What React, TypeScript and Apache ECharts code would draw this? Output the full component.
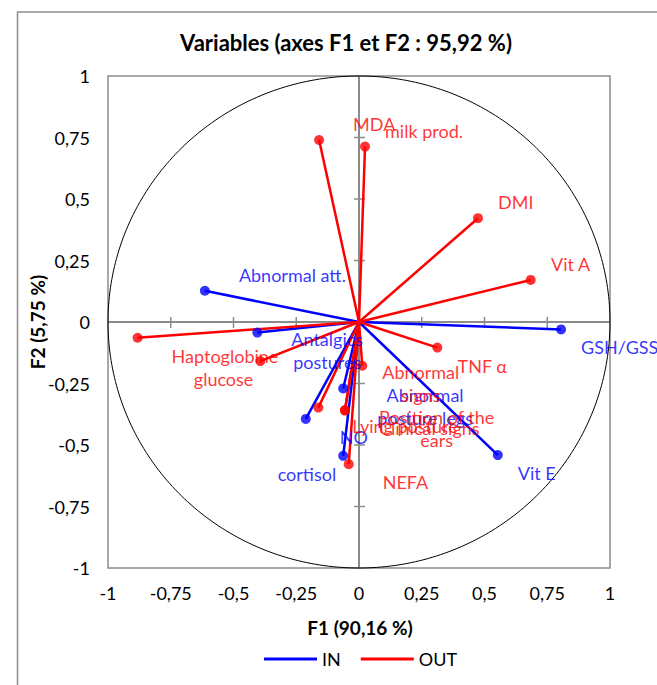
import React, { useEffect, useRef } from 'react';
import * as echarts from 'echarts';

// ---- Data ----
const TITLE = 'Variables (axes F1 et F2 : 95,92 %)';
const X_TITLE = 'F1 (90,16 %)';
const Y_TITLE = 'F2 (5,75 %)';
const TICKS = [-1, -0.75, -0.5, -0.25, 0, 0.25, 0.5, 0.75, 1];

const IN_NAMES = ['Abnormal att.', 'Antalgics\npostures', 'GSH/GSSG', 'Vit E', 'Abnormal\nposture legs', 'NO', 'cortisol'];
const IN_F1 = [-0.614, -0.405, 0.805, 0.553, -0.063, -0.212, -0.063];
const IN_F2 = [0.127, -0.043, -0.030, -0.541, -0.270, -0.394, -0.544];

const OUT_NAMES = ['Haptoglobine', 'glucose', 'MDA', 'milk prod.', 'DMI', 'Vit A', 'TNF α', 'Abnormal\nsigns', 'Lying posture', 'Clinical signs', 'Position of the\nears', 'NEFA'];
const OUT_F1 = [-0.882, -0.393, -0.159, 0.024, 0.474, 0.684, 0.312, 0.013, -0.162, -0.056, -0.056, -0.041];
const OUT_F2 = [-0.064, -0.159, 0.740, 0.713, 0.422, 0.171, -0.104, -0.178, -0.348, -0.358, -0.360, -0.578];

// labels placed on the left side of their point
const LEFT_LABELS = ['glucose', 'cortisol'];

const FONT = 'Lato';
const BLUE = '#0000ff';
const RED = '#ff0000';

function makeItems(names: string[], xs: number[], ys: number[]) {
  return names.map((name, i) => {
    const x = xs[i];
    const y = ys[i];
    const left = LEFT_LABELS.includes(name);
    return {
      name,
      value: [x, y],
      label: {
        align: left ? 'right' : 'left',
        offset: [left ? -7 : x < 0 ? 34 : 20, y >= 0 ? -16 : 18],
      },
    };
  });
}

function vectorSeries(name: string, xs: number[], ys: number[], color: string, z: number) {
  return {
    type: 'custom',
    name,
    z,
    silent: true,
    itemStyle: { color },
    data: xs.map((x, i) => [x, ys[i]]),
    renderItem: (_p: any, api: any) => {
      const o = api.coord([0, 0]);
      const p = api.coord([api.value(0), api.value(1)]);
      return {
        type: 'line',
        shape: { x1: o[0], y1: o[1], x2: p[0], y2: p[1] },
        style: { stroke: color, lineWidth: 2.5 },
      };
    },
  };
}

function pointSeries(name: string, names: string[], xs: number[], ys: number[], color: string, z: number) {
  return {
    type: 'scatter',
    name,
    z,
    symbol: 'circle',
    symbolSize: 10,
    itemStyle: { color },
    label: {
      show: true,
      position: 'inside',
      verticalAlign: 'middle',
      color,
      fontFamily: FONT,
      fontSize: 18,
      lineHeight: 23,
      formatter: (p: any) => String(p.name).split('\n').map((s) => `{ctr|${s}}`).join('\n'),
      rich: { ctr: { align: 'center', color, fontFamily: FONT, fontSize: 18, lineHeight: 23 } },
    },
    emphasis: { disabled: true },
    data: makeItems(names, xs, ys),
  };
}

const fmt = (v: number) => String(v).replace('.', ',');

export default function App() {
  const ref = useRef<HTMLDivElement>(null);

  useEffect(() => {
    if (!ref.current) return;
    const chart = echarts.init(ref.current, undefined, { renderer: 'svg' });

    const option: any = {
      animation: false,
      backgroundColor: '#ffffff',
      grid: {
        left: 108,
        top: 76,
        right: 47,
        bottom: 117,
        show: true,
        borderColor: '#8c8c8c',
        borderWidth: 1.5,
        backgroundColor: 'transparent',
      },
      xAxis: {
        type: 'value',
        min: -1,
        max: 1,
        interval: 0.25,
        axisLine: { show: false },
        axisTick: { show: false },
        splitLine: { show: false },
        axisLabel: { formatter: fmt, color: '#000', fontFamily: FONT, fontSize: 18, margin: 16 },
      },
      yAxis: {
        type: 'value',
        min: -1,
        max: 1,
        interval: 0.25,
        axisLine: { show: false },
        axisTick: { show: false },
        splitLine: { show: false },
        axisLabel: { formatter: fmt, color: '#000', fontFamily: FONT, fontSize: 18, margin: 18 },
      },
      legend: {
        left: 259,
        top: 645,
        itemWidth: 53,
        itemHeight: 3,
        itemGap: 20,
        selectedMode: false,
        textStyle: { color: '#000', fontFamily: FONT, fontSize: 18 },
        data: [
          { name: 'IN', icon: 'rect', itemStyle: { color: BLUE } },
          { name: 'OUT', icon: 'rect', itemStyle: { color: RED } },
        ],
      },
      graphic: [
        {
          type: 'rect',
          silent: true,
          shape: { x: 17.5, y: 12, width: 800, height: 800 },
          style: { fill: 'none', stroke: '#8c8c8c', lineWidth: 1.5 },
        },
        {
          type: 'text',
          x: 346,
          y: 42,
          style: { text: TITLE, fontFamily: FONT, fontWeight: 'bold', fontSize: 22, fill: '#000', align: 'center', verticalAlign: 'middle' },
        },
        {
          type: 'text',
          x: 360,
          y: 627,
          style: { text: X_TITLE, fontFamily: FONT, fontWeight: 'bold', fontSize: 19, fill: '#000', align: 'center', verticalAlign: 'middle' },
        },
        {
          type: 'text',
          x: 37,
          y: 322,
          rotation: Math.PI / 2,
          style: { text: Y_TITLE, fontFamily: FONT, fontWeight: 'bold', fontSize: 19, fill: '#000', align: 'center', verticalAlign: 'middle' },
        },
      ],
      series: [
        {
          type: 'custom',
          name: 'frame',
          z: 1,
          silent: true,
          data: TICKS.map((t) => [t, 0]),
          renderItem: (_p: any, api: any) => {
            const t = api.value(0);
            const children: any[] = [];
            const gray = '#8c8c8c';
            if (t === 0) {
              const a = api.coord([-1, 0]);
              const b = api.coord([1, 0]);
              const c = api.coord([0, 1]);
              const d = api.coord([0, -1]);
              children.push({ type: 'line', shape: { x1: a[0], y1: a[1], x2: b[0], y2: b[1] }, style: { stroke: gray, lineWidth: 2 } });
              children.push({ type: 'line', shape: { x1: c[0], y1: c[1], x2: d[0], y2: d[1] }, style: { stroke: gray, lineWidth: 2 } });
              const pts: number[][] = [];
              for (let k = 0; k <= 360; k++) {
                const th = (k * Math.PI) / 180;
                pts.push(api.coord([Math.cos(th), Math.sin(th)]));
              }
              children.push({ type: 'polyline', shape: { points: pts }, style: { stroke: '#000', lineWidth: 1, fill: 'none' } });
            } else if (Math.abs(t) < 1) {
              const px = api.coord([t, 0]);
              const py = api.coord([0, t]);
              children.push({ type: 'line', shape: { x1: px[0], y1: px[1] - 5, x2: px[0], y2: px[1] + 6 }, style: { stroke: gray, lineWidth: 1.5 } });
              children.push({ type: 'line', shape: { x1: py[0] - 5, y1: py[1], x2: py[0] + 6, y2: py[1] }, style: { stroke: gray, lineWidth: 1.5 } });
            }
            return { type: 'group', children };
          },
        },
        vectorSeries('IN', IN_F1, IN_F2, BLUE, 2),
        vectorSeries('OUT', OUT_F1, OUT_F2, RED, 2),
        pointSeries('IN', IN_NAMES, IN_F1, IN_F2, BLUE, 3),
        pointSeries('OUT', OUT_NAMES, OUT_F1, OUT_F2, RED, 3),
      ],
    };

    chart.setOption(option);
    return () => chart.dispose();
  }, []);

  return (
    <div
      ref={ref}
      style={{ position: 'absolute', left: 0, top: 0, width: 657, height: 685 }}
    />
  );
}
